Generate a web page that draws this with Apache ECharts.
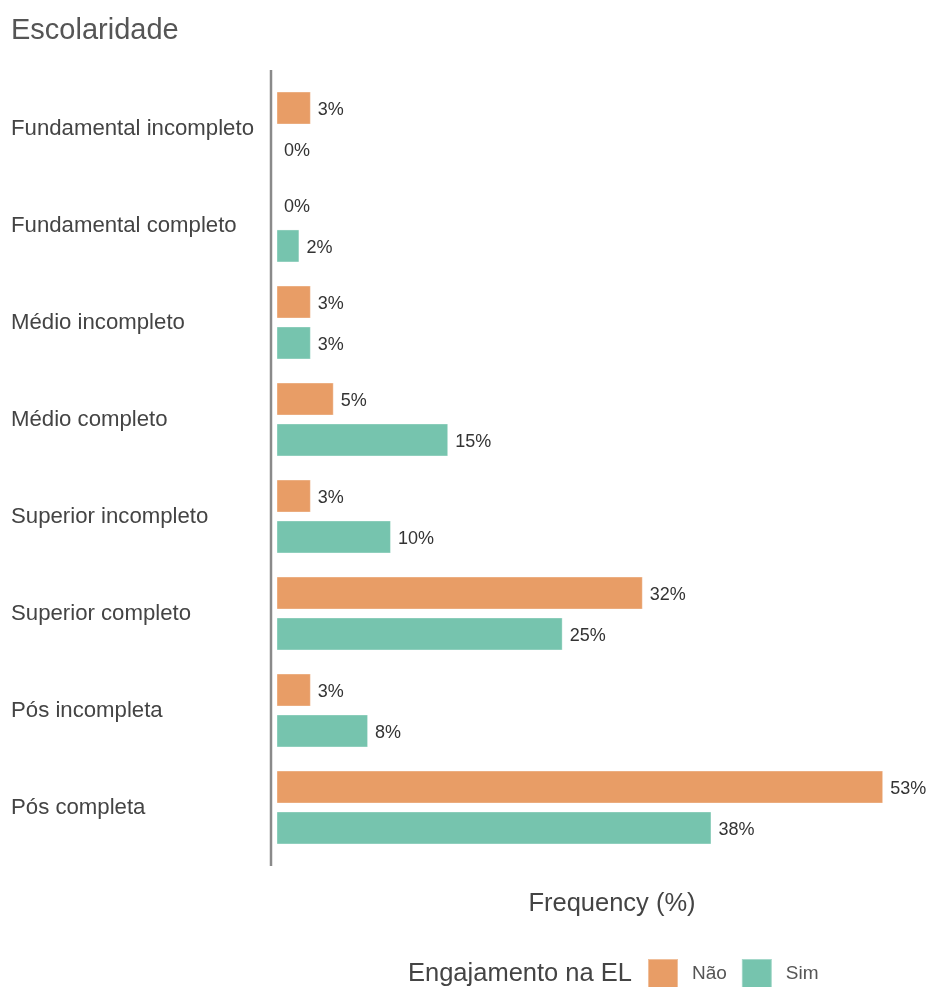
<!DOCTYPE html>
<html>
<head>
<meta charset="utf-8">
<script src="https://cdn.jsdelivr.net/npm/echarts@6/dist/echarts.min.js"></script>
<style>
  html, body { margin: 0; padding: 0; background: #fff; }
  #chart { width: 931px; height: 987px; }
</style>
</head>
<body>
<div id="chart"></div>
<script>
// Education level categories (top to bottom)
const categories = [
  'Fundamental incompleto',
  'Fundamental completo',
  'Médio incompleto',
  'Médio completo',
  'Superior incompleto',
  'Superior completo',
  'Pós incompleta',
  'Pós completa'
];
// Share of respondents (%) by engagement group
const naoValues = [3, 0, 3, 5, 3, 32, 3, 53];
const simValues = [0, 2, 3, 15, 10, 25, 8, 38];
const seriesNames = ['Não', 'Sim'];

const FONT = "'Liberation Sans', Arial, Helvetica, sans-serif";
const ORANGE = '#E89D66';
const TEAL = '#76C4AE';

const chart = echarts.init(document.getElementById('chart'), null, { renderer: 'canvas' });

const gridLeft = 276.5, gridTop = 80, gridHeight = 776, gridWidth = 641;

function barSeries(name, data, color) {
  return {
    name: name,
    type: 'bar',
    data: data,
    barWidth: 33,
    barGap: '24%',
    itemStyle: { color: color, borderColor: 'rgba(255,255,255,0.35)', borderWidth: 1 },
    label: {
      show: true,
      position: 'right',
      distance: 7,
      offset: [0, 2],
      formatter: '{c}%',
      fontFamily: FONT,
      fontSize: 18,
      color: '#333'
    },
    emphasis: { disabled: true },
    silent: true
  };
}

chart.setOption({
  animation: false,
  backgroundColor: '#fff',
  title: [
    {
      text: 'Escolaridade',
      left: 11,
      top: 16,
      padding: 0,
      textStyle: { fontFamily: FONT, fontSize: 29, fontWeight: 'normal', color: '#555' }
    },
    {
      text: 'Engajamento na EL',
      left: 408,
      top: 961,
      padding: 0,
      textStyle: { fontFamily: FONT, fontSize: 25.5, fontWeight: 'normal', color: '#444' }
    }
  ],
  legend: {
    data: seriesNames,
    left: 647,
    top: 958,
    padding: 0,
    icon: 'rect',
    itemWidth: 30,
    itemHeight: 30,
    itemGap: 14,
    textStyle: { fontFamily: FONT, fontSize: 19, color: '#555', padding: [2, 0, 0, 9] },
    selectedMode: false
  },
  grid: { left: gridLeft, top: gridTop, width: gridWidth, height: gridHeight, containLabel: false },
  xAxis: {
    type: 'value',
    min: 0,
    max: 56,
    show: true,
    axisLine: { show: false },
    axisTick: { show: false },
    axisLabel: { show: false },
    splitLine: { show: false }
  },
  yAxis: {
    type: 'category',
    data: categories,
    inverse: true,
    axisLine: { show: false },
    axisTick: { show: false },
    axisLabel: {
      align: 'left',
      margin: gridLeft - 11,
      fontFamily: FONT,
      fontSize: 22.2,
      color: '#444',
      padding: [7, 0, 0, 0]
    }
  },
  series: [
    barSeries(seriesNames[0], naoValues, ORANGE),
    barSeries(seriesNames[1], simValues, TEAL)
  ],
  graphic: [
    {
      // vertical axis rule
      type: 'line',
      shape: { x1: 271, y1: 70, x2: 271, y2: 866 },
      style: { stroke: '#8a8a8a', lineWidth: 2.5 },
      silent: true
    },
    {
      type: 'text',
      x: 612,
      y: 904,
      style: {
        text: 'Frequency (%)',
        fontFamily: FONT,
        fontSize: 25.5,
        fill: '#444',
        align: 'center',
        verticalAlign: 'middle'
      },
      silent: true
    }
  ]
});
</script>
</body>
</html>
